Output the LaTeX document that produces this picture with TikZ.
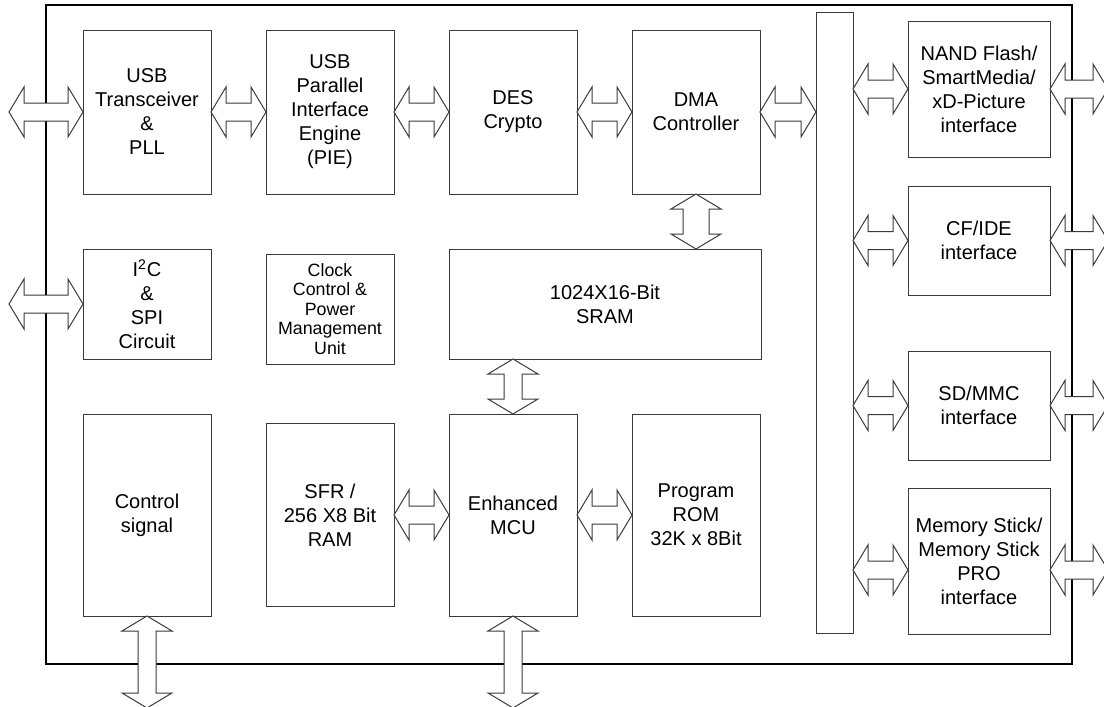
\documentclass[tikz,border=0pt]{standalone}
\usepackage{fontspec}
\setmainfont{Liberation Sans}
\usepackage{xcolor}
\definecolor{cLine}{HTML}{3A3A3A}
\definecolor{cFrame}{HTML}{000000}
\usepackage{tikz}
\usetikzlibrary{positioning,calc}
% block arrow geometry: head length, head half width, shaft half width
\newcommand\ahl{7.5pt}
\newcommand\ahw{12.5pt}
\newcommand\asw{4.5pt}
\tikzset{
  blk/.style={draw=cLine,line width=0.5pt,inner sep=0pt,outer sep=0pt,
    minimum width=64pt,align=center,font=\fontsize{10}{12}\selectfont},
  blk-small/.style={blk,font=\fontsize{8.9}{9.8}\selectfont},
  blk-side/.style={blk,minimum width=71pt},
  bus-bar/.style={draw=cLine,line width=0.5pt,inner sep=0pt,outer sep=0pt,
    minimum width=18.5pt,minimum height=310.5pt},
  frame/.style={draw=cFrame,line width=1pt},
  fat-arrow/.style={draw=cLine,line width=0.5pt,fill=white,
    to path={(\tikztostart)
      -- ($(\tikztostart)!\ahl!(\tikztotarget)!\ahw!90:(\tikztotarget)$)
      -- ($(\tikztostart)!\ahl!(\tikztotarget)!\asw!90:(\tikztotarget)$)
      -- ($(\tikztotarget)!\ahl!(\tikztostart)!\asw!-90:(\tikztostart)$)
      -- ($(\tikztotarget)!\ahl!(\tikztostart)!\ahw!-90:(\tikztostart)$)
      -- (\tikztotarget)
      -- ($(\tikztotarget)!\ahl!(\tikztostart)!\ahw!90:(\tikztostart)$)
      -- ($(\tikztotarget)!\ahl!(\tikztostart)!\asw!90:(\tikztostart)$)
      -- ($(\tikztostart)!\ahl!(\tikztotarget)!\asw!-90:(\tikztotarget)$)
      -- ($(\tikztostart)!\ahl!(\tikztotarget)!\ahw!-90:(\tikztotarget)$)
      -- cycle}},
  fat-arrow-wide/.style={fat-arrow,/utils/exec={\def\asw{6.5pt}}},
}
\begin{document}
\begin{tikzpicture}[x=0.5pt,y=-0.5pt,node distance=27.5pt]
  \useasboundingbox (0,0) rectangle (1104,707);
  \draw[frame] (46,5) rectangle (1072,664);

  % top row
  \node[blk,minimum height=82pt,anchor=north west] (usb) at (83,30)
    {USB\\Transceiver\\\&\\PLL};
  \node[blk,minimum height=82pt,right=of usb] (pie)
    {USB\\Parallel\\Interface\\Engine\\(PIE)};
  \node[blk,minimum height=82pt,right=of pie] (des) {DES\\Crypto};
  \node[blk,minimum height=82pt,right=of des] (dma) {DMA\\Controller};

  % middle row
  \node[blk,minimum height=55pt,below=of usb] (i2c)
    {I\textsuperscript{2}C\\\&\\SPI\\Circuit};
  \node[blk-small,minimum height=55pt,below=30pt of pie] (clk)
    {Clock\\Control \&\\Power\\Management\\Unit};
  \node[blk,minimum width=156pt,minimum height=55pt,anchor=north west]
    (sram) at ([yshift=-27.5pt]des.south west) {1024X16-Bit\\SRAM};

  % bottom row
  \node[blk,minimum height=101pt,below=of i2c] (ctrl) {Control\\signal};
  \node[blk,minimum height=101pt,anchor=north west]
    (mcu) at ([yshift=-27.5pt]sram.south west) {Enhanced\\MCU};
  \node[blk,minimum height=91.5pt,left=of mcu] (sfr)
    {SFR /\\256 X8 Bit\\RAM};
  \node[blk,minimum height=101pt,right=of mcu] (rom)
    {Program\\ROM\\32K x 8Bit};

  % bus and card interfaces
  \node[bus-bar] (bus) at (834.5,322.5) {};
  \node[blk-side,minimum height=68pt,anchor=north west] (nand) at (908,21)
    {NAND Flash/\\SmartMedia/\\xD-Picture\\interface};
  \node[blk-side,minimum height=54.5pt,anchor=north west] (cfide) at (908,186)
    {CF/IDE\\interface};
  \node[blk-side,minimum height=54.5pt,anchor=north west] (sdmmc) at (908,351)
    {SD/MMC\\interface};
  \node[blk-side,minimum height=73pt,anchor=north west] (mstick) at (908,488)
    {Memory Stick/\\Memory Stick\\PRO\\interface};

  \coordinate (usb-ext) at (9,112);
  \coordinate (i2c-ext) at (9,304);
  \coordinate (bot-ext) at (0,708);
  \coordinate (rgt-ext) at (1108,0);
  \coordinate (ms-y) at (0,570);

  \draw[fat-arrow] (usb-ext) to (usb.west);
  \draw[fat-arrow] (i2c-ext) to (i2c.west);
  \draw[fat-arrow] (usb.east) to (pie.west);
  \draw[fat-arrow] (pie.east) to (des.west);
  \draw[fat-arrow] (des.east) to (dma.west);
  \draw[fat-arrow] (dma.east) to (bus.west |- dma.east);
  \draw[fat-arrow-wide] (dma.south) to (dma.south |- sram.north);
  \draw[fat-arrow] (mcu.north |- sram.south) to (mcu.north);
  \draw[fat-arrow] (sfr.east) to (mcu.west);
  \draw[fat-arrow] (mcu.east) to (rom.west);
  \draw[fat-arrow] (ctrl.south) to (ctrl.south |- bot-ext);
  \draw[fat-arrow] (mcu.south) to (mcu.south |- bot-ext);
  \draw[fat-arrow] (bus.east |- nand.west) to (nand.west);
  \draw[fat-arrow] (bus.east |- cfide.west) to (cfide.west);
  \draw[fat-arrow] (bus.east |- sdmmc.west) to (sdmmc.west);
  \draw[fat-arrow] (bus.east |- ms-y) to (mstick.west |- ms-y);
  \draw[fat-arrow] (nand.east) to (nand.east -| rgt-ext);
  \draw[fat-arrow] (cfide.east) to (cfide.east -| rgt-ext);
  \draw[fat-arrow] (sdmmc.east) to (sdmmc.east -| rgt-ext);
  \draw[fat-arrow] (mstick.east |- ms-y) to (ms-y -| rgt-ext);
\end{tikzpicture}
\end{document}
